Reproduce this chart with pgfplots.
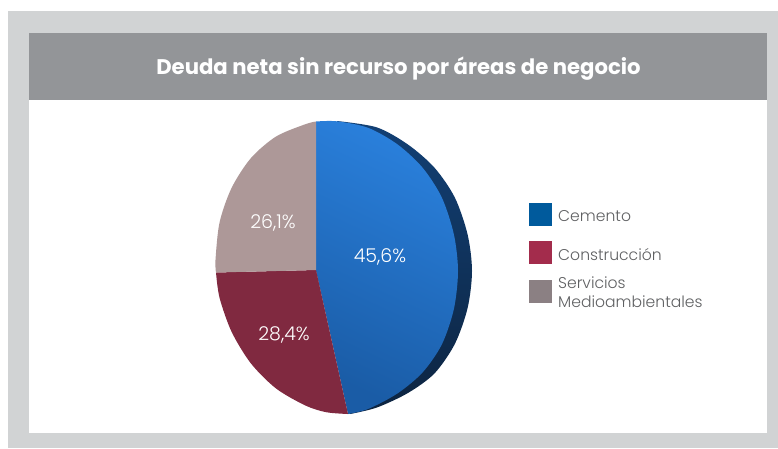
\documentclass[border=0pt]{standalone}
\usepackage{pgfplots}
\pgfplotsset{compat=1.18}
\usepackage{fontspec}
\setmainfont{Poppins}
\newfontfamily\lightf{Poppins Light}
\definecolor{panel}{HTML}{D1D3D4}
\definecolor{header}{HTML}{939598}
\definecolor{txt}{HTML}{5F6062}
\definecolor{lblue}{HTML}{005A9C}
\definecolor{lred}{HTML}{A32C4C}
\definecolor{lgrey}{HTML}{8B8083}
\definecolor{sidetop}{HTML}{124075}
\definecolor{sidebot}{HTML}{0D2440}
\definecolor{bluetop}{HTML}{2A80DC}
\definecolor{bluebot}{HTML}{1A5CA6}
\definecolor{piered}{HTML}{802940}
\definecolor{piegrey}{HTML}{AD9898}
\begin{document}
\begin{tikzpicture}
\begin{axis}[
  scale only axis, width=778pt, height=448pt,
  xmin=0, xmax=778, ymin=0, ymax=448, y dir=reverse,
  axis lines=none, clip=true,
  every axis plot/.append style={draw=none, mark=none, line width=0pt}
]
% background panels
\addplot[fill=white] coordinates {(0,0)(778,0)(778,448)(0,448)} -- cycle;
\addplot[fill=panel] coordinates {(8,11)(778,11)(778,448)(8,448)} -- cycle;
\addplot[fill=header] coordinates {(29,33)(767,33)(767,100)(29,100)} -- cycle;
\addplot[fill=white] coordinates {(29,100)(767,100)(767,433)(29,433)} -- cycle;
% pie side
\addplot[smooth, top color=sidetop, bottom color=sidebot] coordinates {
 (337,121)(376.9,127.4)(407.9,144.5)(434.4,167.6)(454.8,197.5)(467.6,234.5)(472,271)(467.6,308)(454.8,344)(434.4,373.5)(407.9,393)(376.9,407.5)(350,414)
} -- (axis cs:316,270) -- cycle;
% Cemento 45,6
\addplot[smooth, top color=bluetop, bottom color=bluebot, shading angle=-25] coordinates {
 (316,121.5)(336.8,121.3)(368.1,127.8)(397.4,144.3)(422.5,167.6)(441.8,197.5)(453.9,234.5)(458,271)(453.9,309)(441.8,344.5)(422.5,372.5)(397.4,393.5)(368.1,409)(348,414)
} -- (axis cs:316,270) -- cycle;
% Construccion 28,4
\addplot[smooth, fill=piered] coordinates {
 (348,414)(326.2,412.2)(305.4,405.5)(276.1,388.5)(251,363.5)(231.7,332)(219.6,298)(216,272.5)
} -- (axis cs:316,270) -- cycle;
% Servicios 26,1
\addplot[smooth, fill=piegrey] coordinates {
 (216,272.5)(215.5,259.8)(219.6,222.2)(231.7,187.7)(251,158)(276.1,136.5)(305.4,124.2)(316,121.5)
} -- (axis cs:316,270) -- cycle;
% legend keys
\addplot[fill=lblue] coordinates {(529,203)(552,203)(552,226)(529,226)} -- cycle;
\addplot[fill=lred] coordinates {(529,241)(552,241)(552,264)(529,264)} -- cycle;
\addplot[fill=lgrey] coordinates {(529,280)(552,280)(552,303)(529,303)} -- cycle;
% texts
\node[text=white, font=\fontsize{21.2}{21.2}\selectfont\bfseries, anchor=center] at (axis cs:398.5,69) {Deuda neta sin recurso por áreas de negocio};
\node[text=white, font=\fontsize{19}{19}\selectfont\lightf] at (axis cs:380,257) {45,6\%};
\node[text=white, font=\fontsize{19}{19}\selectfont\lightf] at (axis cs:273,223) {26,1\%};
\node[text=white, font=\fontsize{19}{19}\selectfont\lightf] at (axis cs:284,335) {28,4\%};
\node[text=txt, anchor=west, inner sep=0pt, font=\fontsize{15.6}{15.6}\selectfont\lightf] at (axis cs:558,216) {Cemento};
\node[text=txt, anchor=west, inner sep=0pt, font=\fontsize{15.6}{15.6}\selectfont\lightf] at (axis cs:558,255) {Construcción};
\node[text=txt, anchor=west, inner sep=0pt, font=\fontsize{15.6}{15.6}\selectfont\lightf] at (axis cs:558,283) {Servicios};
\node[text=txt, anchor=west, inner sep=0pt, font=\fontsize{15.6}{15.6}\selectfont\lightf] at (axis cs:558,302) {Medioambientales};
\end{axis}
\end{tikzpicture}
\end{document}
